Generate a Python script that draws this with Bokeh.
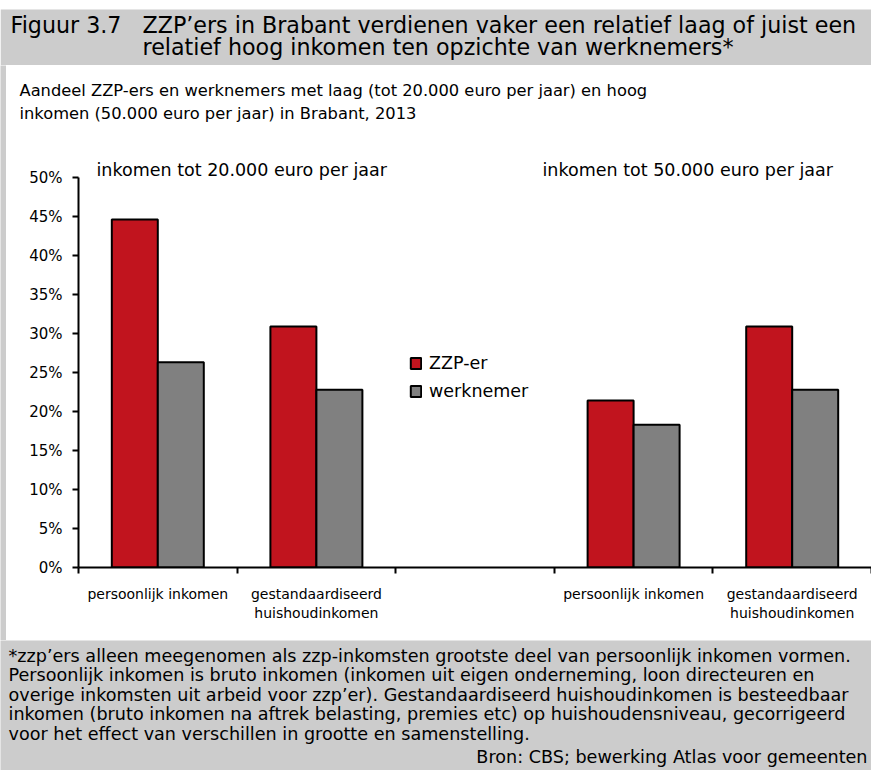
from bokeh.plotting import figure
from bokeh.models import (Range1d, FixedTicker, NumeralTickFormatter, Label,
                          Legend, LegendItem, BoxAnnotation)
from bokeh.layouts import column, row
from bokeh.core.properties import value
from bokeh.embed import file_html
from bokeh.resources import INLINE

# ---------------- data ----------------
figure_number = "Figuur 3.7"
title_lines = ["ZZP’ers in Brabant verdienen vaker een relatief laag of juist een",
               "relatief hoog inkomen ten opzichte van werknemers*"]
subtitle_lines = ["Aandeel ZZP-ers en werknemers met laag (tot 20.000 euro per jaar) en hoog",
                  "inkomen (50.000 euro per jaar) in Brabant, 2013"]
section_labels = ["inkomen tot 20.000 euro per jaar", "inkomen tot 50.000 euro per jaar"]
categories = ["persoonlijk inkomen", "gestandaardiseerd\nhuishoudinkomen", "",
              "persoonlijk inkomen", "gestandaardiseerd\nhuishoudinkomen"]
series_names = ["ZZP-er", "werknemer"]
zzp_values = [0.446, 0.309, float("nan"), 0.214, 0.309]
werknemer_values = [0.263, 0.228, float("nan"), 0.183, 0.228]
y_ticks = [0.0, 0.05, 0.10, 0.15, 0.20, 0.25, 0.30, 0.35, 0.40, 0.45, 0.50]
footnote_lines = [
    "*zzp’ers alleen meegenomen als zzp-inkomsten grootste deel van persoonlijk inkomen vormen.",
    "Persoonlijk inkomen is bruto inkomen (inkomen uit eigen onderneming, loon directeuren en",
    "overige inkomsten uit arbeid voor zzp’er). Gestandaardiseerd huishoudinkomen is besteedbaar",
    "inkomen (bruto inkomen na aftrek belasting, premies etc) op huishoudensniveau, gecorrigeerd",
    "voor het effect van verschillen in grootte en samenstelling.",
]
source_line = "Bron: CBS; bewerking Atlas voor gemeenten"

# ---------------- style ----------------
FONT = "DejaVu Sans"
RED = "#C1141E"
GREY = "#808080"
BAND = "#CCCCCC"
TOTAL_W = 871
STRIP_W = 6


def no_align(f):
    try:
        f.frame_align = False
    except Exception:
        pass
    return f


def blank(width, height, bg):
    f = figure(width=width, height=height, x_range=Range1d(0, width), y_range=Range1d(0, height),
               toolbar_location=None, output_backend="svg", min_border=0,
               x_axis_location=None, y_axis_location=None,
               background_fill_color=bg, border_fill_color=bg, outline_line_color=None)
    f.xgrid.visible = False
    f.ygrid.visible = False
    return no_align(f)


# ---------------- header ----------------
H_HEAD = 65
head = blank(TOTAL_W, H_HEAD, "white")
head.add_layout(BoxAnnotation(left=0, right=TOTAL_W, bottom=0, top=H_HEAD - 9,
                              fill_color=BAND, fill_alpha=1, line_color=None, level="underlay"))
head.text(x=[10], y=[H_HEAD - 24], text=[figure_number], text_font=value(FONT),
          text_font_size="22.2px", text_baseline="middle", text_color="black")
head.text(x=[142, 142], y=[H_HEAD - 24, H_HEAD - 46], text=title_lines, text_font=value(FONT),
          text_font_size="22.2px", text_baseline="middle", text_color="black")

# ---------------- left strip ----------------
H_BODY = 575
strip = blank(STRIP_W, H_BODY, BAND)

# ---------------- subtitle ----------------
BODY_W = TOTAL_W - STRIP_W
H_SUB = 75
sub = blank(BODY_W, H_SUB, "white")
sub.text(x=[13, 13], y=[H_SUB - 25, H_SUB - 48], text=subtitle_lines, text_font=value(FONT),
         text_font_size="16.3px", text_baseline="middle", text_color="black")

# ---------------- chart ----------------
H_CHART = H_BODY - H_SUB
MB_LEFT, MB_TOP, MB_BOTTOM = 72, 10, 73
cat_px = 158.6
zero_to_half_px = 390.0
frame_h = H_CHART - MB_TOP - MB_BOTTOM
frame_w = BODY_W - MB_LEFT
n = len(categories)
centers = [i + 0.5 for i in range(n)]
bar_w = 0.29
p = figure(width=BODY_W, height=H_CHART,
           x_range=Range1d(0, frame_w / cat_px),
           y_range=Range1d(0, 0.5 * frame_h / zero_to_half_px),
           toolbar_location=None, output_backend="svg",
           min_border_left=MB_LEFT, min_border_right=0, min_border_top=MB_TOP,
           min_border_bottom=MB_BOTTOM,
           background_fill_color="white", border_fill_color="white", outline_line_color=None)
no_align(p)
p.xgrid.visible = False
p.ygrid.visible = False

r_zzp = p.vbar(x=[c - bar_w / 2 for c in centers], top=zzp_values, width=bar_w,
               fill_color=RED, line_color="black", line_width=2)
r_wn = p.vbar(x=[c + bar_w / 2 for c in centers], top=werknemer_values, width=bar_w,
              fill_color=GREY, line_color="black", line_width=2)

xa = p.xaxis[0]
xa.ticker = FixedTicker(ticks=centers, minor_ticks=list(range(n + 1)))
xa.major_label_overrides = {c: lab for c, lab in zip(centers, categories)}
xa.major_tick_out = 0
xa.major_tick_in = 0
xa.minor_tick_out = 6
xa.minor_tick_in = 0
xa.minor_tick_line_color = "black"
xa.minor_tick_line_width = 2
xa.axis_line_width = 2
xa.axis_line_color = "black"
xa.major_label_text_font = FONT
xa.major_label_text_font_size = "14px"
xa.major_label_text_color = "black"
xa.major_label_standoff = 12

ya = p.yaxis[0]
ya.ticker = FixedTicker(ticks=y_ticks)
ya.formatter = NumeralTickFormatter(format="0%")
ya.bounds = (y_ticks[0], y_ticks[-1])
ya.major_tick_out = 6
ya.major_tick_in = 0
ya.minor_tick_out = 0
ya.minor_tick_in = 0
ya.major_tick_line_width = 2
ya.axis_line_width = 2
ya.axis_line_color = "black"
ya.major_label_text_font = FONT
ya.major_label_text_font_size = "15px"
ya.major_label_text_color = "black"
ya.major_label_standoff = 10

for xs, line in zip([18, 464], section_labels):
    p.add_layout(Label(x=xs, y=398, x_units="screen", y_units="screen", text=line,
                       text_font=FONT, text_font_size="17.5px", text_baseline="middle",
                       text_color="black"))

legend = Legend(items=[LegendItem(label=series_names[0], renderers=[r_zzp]),
                       LegendItem(label=series_names[1], renderers=[r_wn])],
                location=(331, 166), padding=0, margin=0, spacing=8,
                glyph_width=13, glyph_height=14, label_height=20, label_standoff=7,
                border_line_color=None, background_fill_alpha=0,
                label_text_font=FONT, label_text_font_size="17.5px", label_text_color="black")
p.add_layout(legend)

# ---------------- footnote ----------------
H_FOOT = 130
foot = blank(TOTAL_W, H_FOOT, BAND)
foot.text(x=[8] * len(footnote_lines),
          y=[H_FOOT - 15 - 19.5 * i for i in range(len(footnote_lines))],
          text=footnote_lines, text_font=value(FONT), text_font_size="17.6px",
          text_baseline="middle", text_color="black")
foot.text(x=[TOTAL_W - 4], y=[H_FOOT - 116], text=[source_line], text_font=value(FONT),
          text_font_size="17.6px", text_align="right", text_baseline="middle",
          text_color="black")

layout = column(head, row(strip, column(sub, p, spacing=0), spacing=0), foot, spacing=0)
open("out.html", "w").write(file_html(layout, INLINE))
